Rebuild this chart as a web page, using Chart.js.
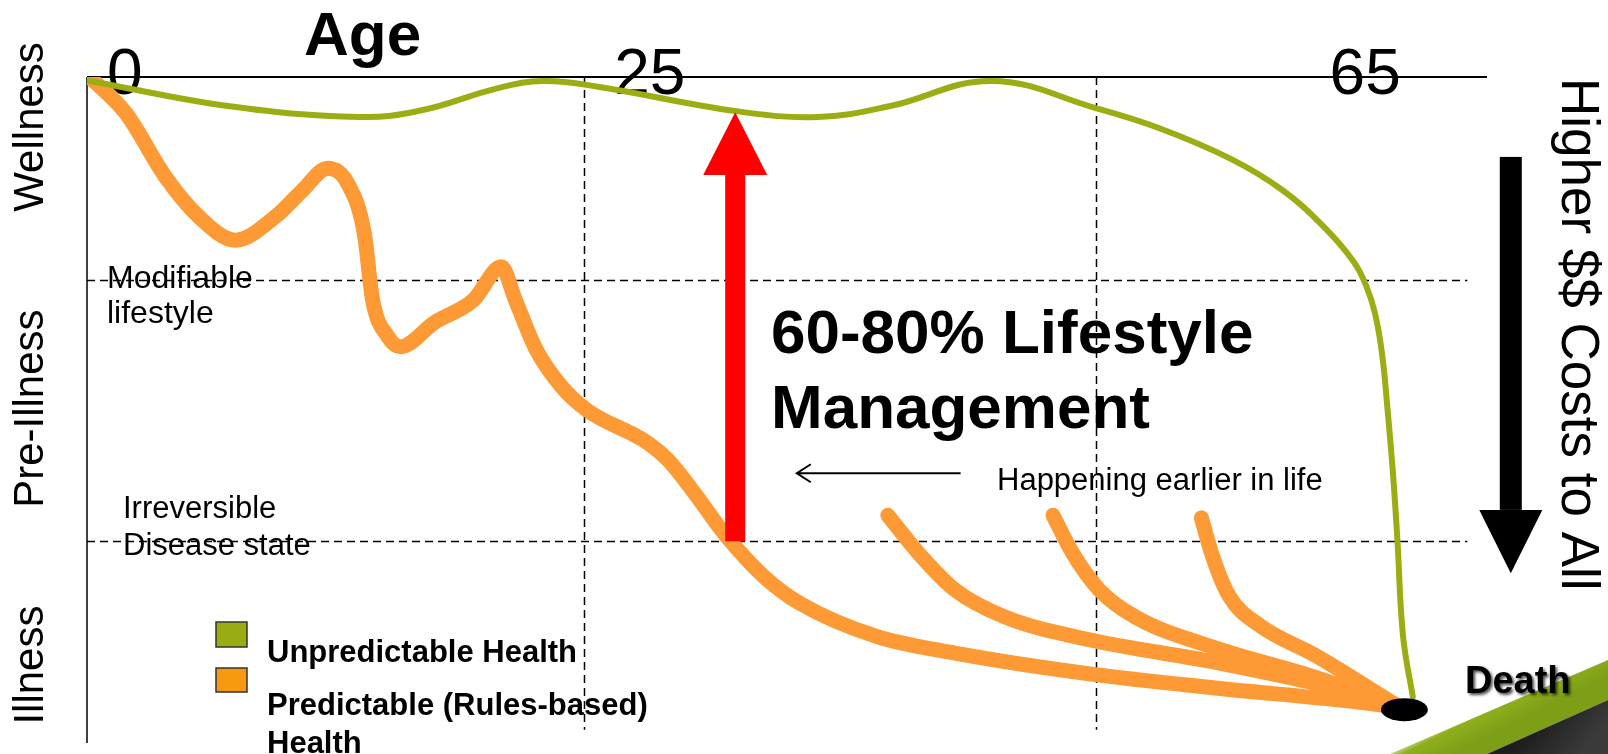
<!DOCTYPE html>
<html lang="en">
<head>
<meta charset="UTF-8">
<title>Health over the life course</title>
<script src="https://cdn.jsdelivr.net/npm/chart.js"></script>
<style>
  html, body { margin: 0; padding: 0; background: #ffffff; }
  #wrap { width: 1608px; height: 754px; position: relative; }
</style>
</head>
<body>
<div id="wrap"><canvas id="chart"></canvas></div>
<script>
// x: life course (0 = birth, 100 = end of the age axis), y: health (100 = wellness, 0 = illness)
const ageTickLabels = ['0', '25', '65'];
const ageTickAt = [2.7, 40.2, 91.3];
const ageGrid = [35.5, 72.1];
const stageGrid = [69.5, 30.3];
const stageLabels = ['Wellness', 'Pre-Illness', 'Illness'];
const stageLabelAt = [92.5, 50.2, 11.7];

// Unpredictable health (green)
const unpredictableX = [0, 10.2, 19.5, 23.9, 29.3, 32.6, 36.6, 46.3, 52.2, 57.3, 64.6, 72.1, 76.6, 81.7, 85.4, 88.3, 90.5, 91.4, 92.0, 92.5, 92.9, 93.3, 93.6, 94.0, 94.7];
const unpredictableY = [99.5, 95.6, 94.0, 95.0, 98.3, 99.4, 98.5, 94.9, 94.0, 95.6, 99.4, 95.3, 92.3, 87.7, 83.0, 77.6, 72.2, 68.5, 64.5, 58.5, 50.0, 40.0, 30.5, 16.1, 6.9];

// Predictable (rules-based) health (orange), main path
const predictableX = [0.2, 2.8, 5.6, 8.0, 10.6, 13.5, 15.4, 17.2, 18.6, 19.8, 20.4, 21.5, 22.4, 24.8, 27.6, 29.6, 30.6, 32.1, 33.9, 35.7, 40.1, 41.5, 43.4, 45.5, 48.4, 50.9, 56.4, 62.0, 71.9, 80.4, 91.4, 93.8];
const predictableY = [100, 94.5, 85.0, 79.0, 75.5, 79.1, 83.0, 86.3, 84.1, 76.6, 66.5, 61.0, 59.5, 63.1, 66.5, 71.5, 66.5, 59.0, 53.5, 50.0, 45.0, 42.5, 37.5, 31.5, 24.9, 21.0, 16.0, 13.5, 10.3, 8.3, 6.0, 5.3];

// later onsets of disease
const onset1X = [57.2, 59.4, 62.0, 65.6, 71.6, 80.4, 89.6, 93.8];
const onset1Y = [34.2, 28.5, 23.0, 18.9, 15.5, 12.2, 8.0, 5.3];
const onset2X = [69.0, 70.4, 72.3, 74.9, 80.4, 87.7, 93.8];
const onset2Y = [34.2, 28.5, 23.0, 18.9, 14.4, 9.9, 5.3];
const onset3X = [79.6, 80.4, 81.6, 83.8, 87.7, 93.8];
const onset3Y = [33.8, 28.0, 22.0, 17.6, 13.2, 5.3];

const deathAt = [94.1, 5.0];
const lifestyleArrow = [46.3, 30.3, 85.3, 94.7];   // x, base, head start, tip
const costArrow = [101.7, 88.0, 35.0, 25.5];
const earlierArrow = [62.4, 50.7, 40.5];           // from x, to x, y

const legendLabels = ['Unpredictable Health', 'Predictable (Rules-based)', 'Health'];

const GREEN = '#9bad13';
const ORANGE = '#fd9a35';
const FONT = '"Liberation Sans", Arial, sans-serif';

function pts(xs, ys) {
    return xs.map((x, i) => ({ x: x, y: ys[i] }));
}

function lineSet(label, xs, ys, color, width, smooth) {
    return {
        label: label,
        data: pts(xs, ys),
        borderColor: color,
        borderWidth: width,
        pointRadius: 0,
        fill: false,
        cubicInterpolationMode: smooth ? 'default' : 'monotone',
        tension: smooth ? 0.4 : 0,
        borderCapStyle: 'round',
        borderJoinStyle: 'round'
    };
}

function vArrow(ctx, x, yBase, yHead, yTip, shaftW, headW, color) {
    ctx.fillStyle = color;
    ctx.fillRect(x - shaftW / 2, Math.min(yBase, yHead), shaftW, Math.abs(yBase - yHead));
    ctx.beginPath();
    ctx.moveTo(x - headW / 2, yHead);
    ctx.lineTo(x + headW / 2, yHead);
    ctx.lineTo(x, yTip);
    ctx.closePath();
    ctx.fill();
}

const decor = {
    id: 'decor',
    beforeDraw(chart) {
        const ctx = chart.ctx;
        ctx.save();
        ctx.fillStyle = '#ffffff';
        ctx.fillRect(0, 0, chart.width, chart.height);
        // corner swoosh
        let g = ctx.createLinearGradient(1500, 680, 1520, 720);
        g.addColorStop(0, 'rgba(255,255,255,0)');
        g.addColorStop(0.5, '#8fb01c');
        g.addColorStop(1, '#7d9e17');
        ctx.fillStyle = g;
        ctx.beginPath();
        ctx.moveTo(1390, 754);
        ctx.lineTo(1608, 660);
        ctx.lineTo(1608, 700);
        ctx.lineTo(1487, 754);
        ctx.closePath();
        ctx.fill();
        g = ctx.createLinearGradient(1540, 720, 1580, 754);
        g.addColorStop(0, '#1e1e1e');
        g.addColorStop(1, '#3a3a3a');
        ctx.fillStyle = g;
        ctx.beginPath();
        ctx.moveTo(1487, 754);
        ctx.lineTo(1608, 700);
        ctx.lineTo(1608, 754);
        ctx.closePath();
        ctx.fill();
        ctx.restore();
    },
    beforeDatasetsDraw(chart) {
        const ctx = chart.ctx;
        const xs = chart.scales.x, ys = chart.scales.y;
        ctx.save();
        ctx.strokeStyle = '#000000';
        ctx.lineWidth = 1.5;
        ctx.setLineDash([8, 5]);
        ageGrid.forEach(v => {
            const x = Math.round(xs.getPixelForValue(v)) + 0.5;
            ctx.beginPath();
            ctx.moveTo(x, ys.getPixelForValue(100));
            ctx.lineTo(x, ys.getPixelForValue(2));
            ctx.stroke();
        });
        stageGrid.forEach(v => {
            const y = Math.round(ys.getPixelForValue(v)) + 0.5;
            ctx.beginPath();
            ctx.moveTo(xs.getPixelForValue(0), y);
            ctx.lineTo(xs.getPixelForValue(98.6), y);
            ctx.stroke();
        });
        ctx.setLineDash([]);
        // axes: age along the top, health down the left
        ctx.lineWidth = 2;
        ctx.beginPath();
        ctx.moveTo(xs.getPixelForValue(0), ys.getPixelForValue(100));
        ctx.lineTo(xs.getPixelForValue(100), ys.getPixelForValue(100));
        ctx.stroke();
        ctx.lineWidth = 1.5;
        ctx.beginPath();
        ctx.moveTo(xs.getPixelForValue(0), ys.getPixelForValue(100));
        ctx.lineTo(xs.getPixelForValue(0), ys.getPixelForValue(0));
        ctx.stroke();

        // tick labels and axis captions
        ctx.fillStyle = '#000000';
        ctx.textBaseline = 'alphabetic';
        ctx.textAlign = 'center';
        ctx.font = '64px ' + FONT;
        ageTickLabels.forEach((t, i) => ctx.fillText(t, xs.getPixelForValue(ageTickAt[i]), 94));
        ctx.textAlign = 'left';
        ctx.font = 'bold 62px ' + FONT;
        ctx.fillText('Age', 304, 55);

        ctx.font = '42px ' + FONT;
        ctx.textAlign = 'center';
        stageLabels.forEach((t, i) => {
            ctx.save();
            ctx.translate(43, ys.getPixelForValue(stageLabelAt[i]));
            ctx.rotate(-Math.PI / 2);
            ctx.fillText(t, 0, 0);
            ctx.restore();
        });

        ctx.textAlign = 'left';
        ctx.font = '32px ' + FONT;
        ctx.fillText('Modifiable', 107, 288);
        ctx.fillText('lifestyle', 107, 323);
        ctx.font = '31px ' + FONT;
        ctx.fillText('Irreversible', 123, 518);
        ctx.fillText('Disease state', 123, 555);
        ctx.restore();
    },
    afterDatasetsDraw(chart) {
        const ctx = chart.ctx;
        const xs = chart.scales.x, ys = chart.scales.y;
        ctx.save();
        // red arrow: lifestyle management lifts health back
        vArrow(ctx, xs.getPixelForValue(lifestyleArrow[0]), ys.getPixelForValue(lifestyleArrow[1]),
            ys.getPixelForValue(lifestyleArrow[2]), ys.getPixelForValue(lifestyleArrow[3]), 20, 64, '#ff0000');
        // black arrow on the right: costs
        vArrow(ctx, xs.getPixelForValue(costArrow[0]), ys.getPixelForValue(costArrow[1]),
            ys.getPixelForValue(costArrow[2]), ys.getPixelForValue(costArrow[3]), 22, 63, '#000000');

        // thin arrow "happening earlier"
        const ax0 = xs.getPixelForValue(earlierArrow[0]);
        const ax1 = xs.getPixelForValue(earlierArrow[1]);
        const ay = ys.getPixelForValue(earlierArrow[2]);
        ctx.strokeStyle = '#000000';
        ctx.lineWidth = 2;
        ctx.beginPath();
        ctx.moveTo(ax0, ay);
        ctx.lineTo(ax1, ay);
        ctx.moveTo(ax1 + 14, ay - 9);
        ctx.lineTo(ax1, ay);
        ctx.lineTo(ax1 + 14, ay + 9);
        ctx.stroke();

        // death point
        ctx.fillStyle = '#000000';
        ctx.beginPath();
        ctx.ellipse(xs.getPixelForValue(deathAt[0]), ys.getPixelForValue(deathAt[1]), 23.5, 11.5, 0, 0, Math.PI * 2);
        ctx.fill();

        // texts
        ctx.textAlign = 'left';
        ctx.textBaseline = 'alphabetic';
        ctx.font = 'bold 62px ' + FONT;
        ctx.fillText('60-80% Lifestyle', 771, 353);
        ctx.fillText('Management', 771, 428);
        ctx.font = '31px ' + FONT;
        ctx.fillText('Happening earlier in life', 997, 490);

        ctx.save();
        ctx.font = '53px ' + FONT;
        ctx.translate(1562, 78);
        ctx.rotate(Math.PI / 2);
        ctx.fillText('Higher $$ Costs to All', 0, 0);
        ctx.restore();

        ctx.save();
        ctx.font = 'bold 38px ' + FONT;
        ctx.shadowColor = 'rgba(0,0,0,0.7)';
        ctx.shadowBlur = 3;
        ctx.shadowOffsetX = 2;
        ctx.shadowOffsetY = 2;
        ctx.fillText('Death', 1465, 693);
        ctx.restore();

        // legend
        ctx.lineWidth = 1.5;
        ctx.strokeStyle = '#333333';
        ctx.fillStyle = '#9aac14';
        ctx.fillRect(216, 622, 31, 25);
        ctx.strokeRect(216, 622, 31, 25);
        ctx.fillStyle = '#f7990f';
        ctx.fillRect(216, 668, 31, 24);
        ctx.strokeRect(216, 668, 31, 24);
        ctx.fillStyle = '#000000';
        ctx.font = 'bold 31px ' + FONT;
        ctx.fillText(legendLabels[0], 267, 662);
        ctx.fillText(legendLabels[1], 267, 715);
        ctx.fillText(legendLabels[2], 267, 753);
        ctx.restore();
    }
};

new Chart(document.getElementById('chart'), {
    type: 'line',
    data: {
        datasets: [
            lineSet('Unpredictable Health', unpredictableX, unpredictableY, GREEN, 6, true),
            lineSet('Predictable (Rules-based) Health', predictableX, predictableY, ORANGE, 15, false),
            lineSet('Onset 1', onset1X, onset1Y, ORANGE, 15, false),
            lineSet('Onset 2', onset2X, onset2Y, ORANGE, 15, false),
            lineSet('Onset 3', onset3X, onset3Y, ORANGE, 15, false)
        ]
    },
    options: {
        responsive: true,
        maintainAspectRatio: false,
        animation: false,
        layout: { padding: { left: 87, right: 121, top: 77, bottom: 11 } },
        plugins: {
            legend: { display: false },
            tooltip: { enabled: false },
            title: { display: false }
        },
        scales: {
            x: { type: 'linear', min: 0, max: 100, display: false },
            y: { type: 'linear', min: 0, max: 100, display: false }
        }
    },
    plugins: [decor]
});
</script>
</body>
</html>
